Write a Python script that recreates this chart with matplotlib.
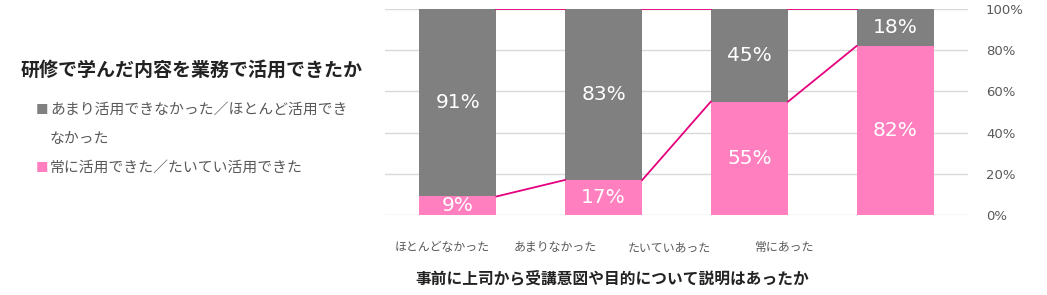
import numpy as np
import matplotlib.pyplot as plt

plt.rcParams['font.family'] = ['Noto Sans CJK JP', 'DejaVu Sans']

categories = ['ほとんどなかった', 'あまりなかった', 'たいていあった', '常にあった']
pink_vals = [9, 17, 55, 82]
gray_vals = [91, 83, 45, 18]
series_names = ['あまり活用できなかった／ほとんど活用でき', 'なかった', '常に活用できた／たいてい活用できた']
yticks = [0, 20, 40, 60, 80, 100]

PINK = '#FF7FBF'
GRAY = '#808080'
LINE = '#E6007E'
TXT = '#595959'

fig = plt.figure(figsize=(10.47, 2.95), dpi=100)
ax = fig.add_axes([385/1047, 1-215/295, (968-385)/1047, 206/295])

x = np.arange(len(categories))
w = 0.53
ax.bar(x, pink_vals, w, color=PINK, zorder=3)
ax.bar(x, gray_vals, w, bottom=pink_vals, color=GRAY, zorder=3)

# series lines between bars
tops = np.array(pink_vals) + np.array(gray_vals)
for i in range(len(x) - 1):
    ax.plot([x[i] + w/2, x[i+1] - w/2], [pink_vals[i], pink_vals[i+1]], color=LINE, lw=1.3, zorder=4)
    ax.plot([x[i] + w/2, x[i+1] - w/2], [tops[i], tops[i+1]], color=LINE, lw=1.3, zorder=4)

for i in range(len(x)):
    ax.text(x[i], pink_vals[i]/2, f'{pink_vals[i]}%', ha='center', va='center',
            color='white', fontsize=14.5, family='DejaVu Sans', zorder=5)
    ax.text(x[i], pink_vals[i] + gray_vals[i]/2, f'{gray_vals[i]}%', ha='center', va='center',
            color='white', fontsize=14.5, family='DejaVu Sans', zorder=5)

ax.set_xlim(-0.5, 3.5)
ax.set_ylim(0, 100)
ax.set_yticks(yticks)
ax.set_yticklabels([f'{v}%' for v in yticks], color=TXT, fontsize=9.5, family='DejaVu Sans')
ax.yaxis.tick_right()
ax.tick_params(axis='y', length=0, pad=13)
ax.grid(axis='y', color='#D9D9D9', lw=1, zorder=0)
ax.set_axisbelow(True)

# category labels sit left of the bar centres in the original
label_shift = [-0.11, -0.33, -0.55, -0.76]
ax.set_xticks(x + np.array(label_shift))
ax.set_xticklabels(categories, color=TXT, fontsize=8.6)
ax.tick_params(axis='x', length=0, pad=19)
for s in ax.spines.values():
    s.set_visible(False)

fig.text(612/1047, 1-278/295, '事前に上司から受講意図や目的について説明はあったか', fontsize=11.3,
         fontweight='bold', color='#222222', ha='center', va='center')

# left-side title and legend
fig.text(21/1047, 1-70/295, '研修で学んだ内容を業務で活用できたか', fontsize=13.7,
         fontweight='bold', color='#222222', va='center')
fig.text(36/1047, 1-110/295, '■', color=GRAY, fontsize=9, va='center')
fig.text(50/1047, 1-110/295, series_names[0], color=TXT, fontsize=10.7, va='center')
fig.text(50/1047, 1-139/295, series_names[1], color=TXT, fontsize=10.7, va='center')
fig.text(36/1047, 1-168/295, '■', color=PINK, fontsize=9, va='center')
fig.text(50/1047, 1-168/295, series_names[2], color=TXT, fontsize=10.7, va='center')

fig.savefig('out.png', dpi=100, facecolor='white')
